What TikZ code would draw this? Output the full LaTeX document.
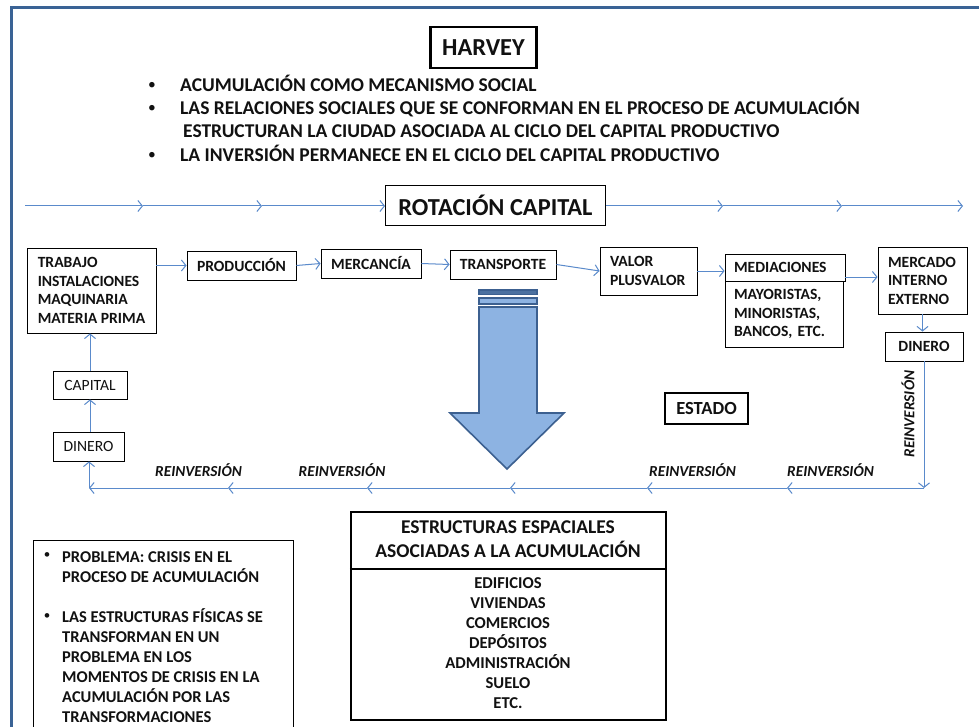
\documentclass[tikz,border=0pt]{standalone}
\usepackage{fontspec}
\setmainfont{Carlito}
\usetikzlibrary{arrows.meta}
\definecolor{lineblue}{HTML}{5A8ACB}
\definecolor{framebl}{HTML}{3A6395}
\definecolor{arrowfill}{HTML}{8DB3E2}
\definecolor{arrowedge}{HTML}{3C6090}
\definecolor{txt}{HTML}{111111}
\tikzset{
 box/.style={draw=black, line width=0.9pt, fill=white, inner sep=0pt, text=txt, font=\fontsize{15.6}{18.5}\selectfont\bfseries},
 conn/.style={draw=lineblue, line width=1pt, -{Straight Barb[length=4.5pt,width=11pt]}},
 reinv/.style={font=\fontsize{15.3}{17}\selectfont\bfseries\itshape, inner sep=0pt, text=txt},
 bigtxt/.style={font=\fontsize{19.5}{23}\selectfont\bfseries, inner sep=0pt, text=txt},
 midtxt/.style={font=\fontsize{16.5}{20}\selectfont\bfseries, inner sep=0pt, text=txt},
 dot/.style={font=\fontsize{15.5}{15.5}\selectfont, inner sep=0pt, text=txt},
}
\begin{document}
\begin{tikzpicture}[x=1pt,y=-1pt]
\clip (0,0) rectangle (979,727);
\fill[white] (0,0) rectangle (979,727);
% frame
\draw[framebl, line width=3pt] (11,760) -- (11,8) -- (1000,8);

% title
\node[box, line width=2.6pt, minimum width=106, minimum height=41, font=\fontsize{24.4}{28}\selectfont\bfseries] (harvey) at (483.5,47.5) {HARVEY};

% bullets
\node[dot] (d1) at (152,86) {•};
\node[bigtxt, anchor=base west] (t1) at (180,92) {ACUMULACIÓN COMO MECANISMO SOCIAL};
\node[dot] (d2) at (152,109) {•};
\node[bigtxt, anchor=base west] (t2) at (180,115) {LAS RELACIONES SOCIALES QUE SE CONFORMAN EN EL PROCESO DE ACUMULACIÓN};
\node[bigtxt, anchor=base west] (t3) at (183,138) {ESTRUCTURAN LA CIUDAD ASOCIADA AL CICLO DEL CAPITAL PRODUCTIVO};
\node[dot] (d4) at (152,156) {•};
\node[bigtxt, anchor=base west] (t4) at (180,162) {LA INVERSIÓN PERMANECE EN EL CICLO DEL CAPITAL PRODUCTIVO};

% rotation
\node[box, minimum width=220, minimum height=40, font=\fontsize{24.4}{28}\selectfont\bfseries] (rot) at (495.5,205.5) {ROTACIÓN CAPITAL};
\coordinate (r0) at (25,206);
\coordinate (r1) at (143,206);
\coordinate (r2) at (262,206);
\coordinate (r4) at (723,206);
\coordinate (r5) at (842,206);
\coordinate (r6) at (963,206);
\draw[conn] (r0) -- (r1);
\draw[conn] (r1) -- (r2);
\draw[conn] (r2) -- (rot.west |- r2);
\draw[conn] (rot.east |- r4) -- (r4);
\draw[conn] (r4) -- (r5);
\draw[conn] (r5) -- (r6);

% row of boxes
\node[box, minimum width=129, minimum height=85, align=left] (trab) at (91.5,290.5) {TRABAJO\\INSTALACIONES\\MAQUINARIA\\MATERIA PRIMA};
\node[box, minimum width=109, minimum height=29] (prod) at (241.5,265.5) {PRODUCCIÓN};
\node[box, minimum width=100, minimum height=29] (merca) at (371,263.5) {MERCANCÍA};
\node[box, minimum width=106, minimum height=29] (trans) at (503,264.5) {TRANSPORTE};
\node[box, minimum width=97, minimum height=48, text width=77, inner xsep=10, align=left] (valor) at (648.5,271) {VALOR\\PLUSVALOR};
\node[box, minimum width=120, minimum height=27, text width=102, inner xsep=9, align=left] (medh) at (785,267.5) {MEDIACIONES};
\node[box, minimum width=118, minimum height=66, text width=100, inner xsep=9, align=left] (medb) at (784,314) {MAYORISTAS,\\MINORISTAS,\\BANCOS, ETC.};
\node[box, minimum width=89, minimum height=67, text width=69, inner xsep=10, align=left] (mercado) at (922.5,280.5) {MERCADO\\INTERNO\\EXTERNO};
\node[box, minimum width=78, minimum height=29] (dinR) at (924,346.5) {DINERO};
\node[box, line width=2.2pt, minimum width=83, minimum height=31, font=\fontsize{18.5}{22}\selectfont\bfseries] (estado) at (706.5,408.5) {ESTADO};
\node[box, minimum width=74, minimum height=28, font=\fontsize{15.6}{18}\selectfont] (cap) at (90,385) {CAPITAL};
\node[box, minimum width=71, minimum height=29, font=\fontsize{15.6}{18}\selectfont] (dinL) at (88.5,446.5) {DINERO};

% row connectors
\draw[conn] (trab.east |- prod.west) -- (prod.west);
\draw[conn] (prod.east) -- (merca.west);
\draw[conn] (merca.east) -- (trans.west);
\draw[conn] (trans.east) -- (valor.west);
\draw[conn] (valor.east) -- (medh.west |- valor.east);
\coordinate (m1) at (845,277);
\draw[conn] (m1) -- (mercado.west |- m1);
\draw[conn] (mercado.south) -- (mercado.south |- dinR.north);

% return loop
\coordinate (c0) at (924,488);
\coordinate (l1) at (787,488);
\coordinate (l2) at (647,488);
\coordinate (l3) at (510,488);
\coordinate (l4) at (367,488);
\coordinate (l5) at (228,488);
\coordinate (c1) at (89,488);
\draw[conn] (dinR.south) -- (c0);
\draw[conn] (c0) -- (l1);
\draw[conn] (l1) -- (l2);
\draw[conn] (l2) -- (l3);
\draw[conn] (l3) -- (l4);
\draw[conn] (l4) -- (l5);
\draw[conn] (l5) -- (c1);
\draw[conn] (c1) -- (c1 |- dinL.south);
\draw[conn] (dinL.north -| cap.south) -- (cap.south);
\draw[conn] (cap.north) -- (cap.north |- trab.south);

% reinversion labels
\node[reinv, anchor=base] (re1) at (198.5,476) {REINVERSIÓN};
\node[reinv, anchor=base] (re2) at (342,476) {REINVERSIÓN};
\node[reinv, anchor=base] (re3) at (692.5,476) {REINVERSIÓN};
\node[reinv, anchor=base] (re4) at (830.5,476) {REINVERSIÓN};
\node[reinv, rotate=90] (re5) at (908,414) {REINVERSIÓN};

% big arrow
\begin{scope}[draw=arrowedge, fill=arrowfill, line width=1.6pt, line join=miter]
\filldraw[fill=arrowedge!80!arrowfill] (479,290) rectangle (537,294.5);
\filldraw (479,298) rectangle (537,304);
\filldraw (479,307) -- (537,307) -- (537,413) -- (564,413) -- (507,469) -- (450,413) -- (479,413) -- cycle;
\end{scope}

% spatial structures
\node[box, line width=2.4pt, minimum width=315, minimum height=208] (estr) at (508.5,616) {};
\draw[black, line width=2pt] (estr.west |- 0,569) -- (estr.east |- 0,569);
\node[font=\fontsize{19.5}{23.5}\selectfont\bfseries, align=center, inner sep=0pt, text=txt, anchor=base] (eh1) at (508,533.5) {ESTRUCTURAS ESPACIALES};
\node[font=\fontsize{19.5}{23.5}\selectfont\bfseries, align=center, inner sep=0pt, text=txt, anchor=base] (eh2) at (508,557) {ASOCIADAS A LA ACUMULACIÓN};
\node[font=\fontsize{16.6}{20}\selectfont\bfseries, align=center, inner sep=0pt, text=txt, anchor=north] (ebody) at (508,577.5) {EDIFICIOS\\VIVIENDAS\\COMERCIOS\\DEPÓSITOS\\ADMINISTRACIÓN\\SUELO\\ETC.};

% problem box
\node[draw=black, line width=0.9pt, fill=white, minimum width=260, minimum height=230, anchor=north west, inner sep=0pt] (prob) at (33,540) {};
\node[dot, font=\fontsize{13}{13}\selectfont] (pb1) at (47,556) {•};
\node[midtxt, anchor=base west] (pt1) at (62,562) {PROBLEMA: CRISIS EN EL};
\node[midtxt, anchor=base west] (pt2) at (62,582) {PROCESO DE ACUMULACIÓN};
\node[dot, font=\fontsize{13}{13}\selectfont] (pb2) at (47,616.5) {•};
\node[midtxt, anchor=base west] (pt3) at (62,622.5) {LAS ESTRUCTURAS FÍSICAS SE};
\node[midtxt, anchor=base west] (pt4) at (62,642.5) {TRANSFORMAN EN UN};
\node[midtxt, anchor=base west] (pt5) at (62,662.5) {PROBLEMA EN LOS};
\node[midtxt, anchor=base west] (pt6) at (62,682.5) {MOMENTOS DE CRISIS EN LA};
\node[midtxt, anchor=base west] (pt7) at (62,702.5) {ACUMULACIÓN POR LAS};
\node[midtxt, anchor=base west] (pt8) at (62,722.5) {TRANSFORMACIONES};
\end{tikzpicture}
\end{document}
